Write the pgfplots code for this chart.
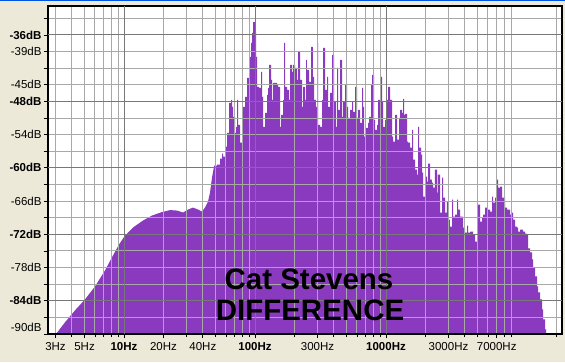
\documentclass[border=0pt]{standalone}
\usepackage{pgfplots}
\pgfplotsset{compat=1.18}
\usepackage{fontspec}
\setmainfont{Liberation Sans}
\definecolor{bg}{RGB}{236,233,216}
\definecolor{spec}{RGB}{138,58,190}
\definecolor{gridlight}{RGB}{168,168,168}
\definecolor{griddark}{RGB}{120,120,120}
\definecolor{winblue}{RGB}{0,84,227}

% x = log10(frequency in Hz), y = level in dB
\pgfplotstableread{
lf db
0.4809 -90
0.5496 -87.89
0.6260 -85.73
0.7023 -83.75
0.7786 -81.41
0.8550 -78.52
0.9160 -75.82
0.9618 -73.84
1.0076 -72.22
1.0687 -70.77
1.1450 -69.51
1.2137 -68.61
1.2901 -67.98
1.3511 -67.62
1.4046 -67.71
1.4504 -68.07
1.4885 -67.53
1.5267 -67.17
1.5649 -67.53
1.5954 -67.89
1.6183 -67.17
1.6412 -66.09
1.6565 -64.47
1.6718 -61.77
1.6870 -59.78
1.6870 -90
}\lowpart

\pgfplotstableread{
lf db
1.6718 -90
1.6718 -61.59
1.6870 -59.60
1.7099 -59.42
1.7328 -58.34
1.7481 -57.44
1.7557 -57.98
1.7710 -56.18
1.7863 -53.66
1.8015 -48.25
1.8168 -47.71
1.8244 -48.97
1.8321 -50.77
1.8473 -53.66
1.8550 -52.58
1.8626 -47.71
1.8702 -52.22
1.8855 -55.46
1.9008 -50.95
1.9084 -48.97
1.9237 -47.17
1.9389 -43.75
1.9542 -39.96
1.9695 -37.44
1.9771 -35.64
1.9847 -33.66
2.0000 -35.46
2.0076 -39.96
2.0153 -45.37
2.0305 -45.55
2.0458 -42.67
2.0534 -47.17
2.0611 -52.58
2.0763 -50.05
2.0916 -46.81
2.0992 -45.55
2.1069 -41.41
2.1221 -44.11
2.1298 -47.71
2.1374 -44.65
2.1527 -44.65
2.1679 -45.01
2.1756 -45.37
2.1908 -52.58
2.1985 -50.41
2.2137 -47.71
2.2214 -37.44
2.2290 -45.37
2.2443 -45.91
2.2595 -47.71
2.2672 -41.41
2.2824 -42.67
2.2901 -41.41
2.3053 -41.95
2.3206 -44.11
2.3282 -39.06
2.3435 -44.11
2.3588 -48.97
2.3664 -45.37
2.3817 -47.71
2.3893 -40.50
2.3969 -42.31
2.4122 -44.47
2.4275 -38.16
2.4427 -43.57
2.4504 -47.71
2.4656 -48.97
2.4733 -37.44
2.4809 -52.22
2.4962 -52.58
2.5115 -47.71
2.5191 -38.34
2.5344 -45.91
2.5496 -43.57
2.5573 -48.97
2.5725 -46.45
2.5878 -39.60
2.6031 -48.07
2.6183 -52.58
2.6260 -41.95
2.6336 -49.51
2.6489 -40.50
2.6641 -50.77
2.6718 -48.07
2.6870 -45.01
2.7023 -48.97
2.7099 -50.95
2.7252 -49.51
2.7405 -48.07
2.7481 -49.87
2.7634 -45.37
2.7786 -50.95
2.7863 -49.51
2.8015 -51.86
2.8168 -45.55
2.8244 -48.97
2.8321 -54.38
2.8473 -52.76
2.8626 -51.86
2.8702 -50.77
2.8855 -45.01
2.8931 -43.21
2.9084 -51.32
2.9160 -53.12
2.9313 -52.22
2.9389 -47.71
2.9542 -43.57
2.9695 -48.07
2.9771 -52.58
2.9924 -51.32
3.0076 -47.71
3.0153 -45.37
3.0305 -47.71
3.0458 -54.38
3.0534 -55.28
3.0687 -50.41
3.0840 -54.92
3.0992 -50.95
3.1069 -49.51
3.1221 -50.05
3.1298 -47.53
3.1374 -50.41
3.1450 -50.23
3.1603 -55.28
3.1679 -55.46
3.1832 -56.36
3.1985 -53.12
3.2061 -58.52
3.2214 -60.32
3.2366 -61.23
3.2443 -52.58
3.2519 -56.36
3.2672 -57.62
3.2748 -60.86
3.2824 -65.19
3.2977 -61.59
3.3130 -62.49
3.3206 -59.24
3.3359 -62.13
3.3511 -62.67
3.3588 -63.57
3.3740 -60.32
3.3893 -64.47
3.3969 -61.23
3.4122 -68.07
3.4275 -61.77
3.4351 -65.37
3.4504 -68.07
3.4656 -66.09
3.4733 -69.33
3.4885 -70.59
3.5038 -65.73
3.5115 -68.79
3.5267 -68.43
3.5420 -65.73
3.5496 -67.53
3.5649 -68.79
3.5802 -68.79
3.5878 -70.77
3.6031 -71.68
3.6183 -70.41
3.6260 -71.68
3.6412 -71.50
3.6565 -71.50
3.6641 -72.04
3.6794 -73.30
3.6947 -70.77
3.7023 -66.63
3.7176 -69.69
3.7328 -68.97
3.7405 -68.43
3.7557 -67.17
3.7710 -68.79
3.7786 -67.53
3.7939 -67.89
3.8092 -65.19
3.8168 -66.27
3.8321 -65.37
3.8473 -62.13
3.8550 -63.57
3.8702 -63.39
3.8855 -65.37
3.8931 -65.37
3.9084 -67.17
3.9237 -67.53
3.9466 -68.43
3.9618 -68.07
3.9695 -69.33
3.9847 -70.59
4.0000 -70.77
4.0076 -71.50
4.0229 -71.14
4.0458 -71.50
4.0611 -71.86
4.0763 -72.04
4.0840 -74.56
4.0992 -75.28
4.1145 -76.54
4.1221 -77.98
4.1374 -79.60
4.1527 -81.41
4.1603 -82.49
4.1756 -83.75
4.1908 -85.55
4.1985 -87.35
4.2137 -89.15
4.2214 -90
}\spikes

\begin{document}
\begin{tikzpicture}
\fill[bg] (-48pt,-28pt) rectangle (517pt,334pt);
\fill[winblue] (-48pt,333pt) rectangle (517pt,334pt);
\begin{axis}[
  at={(0pt,0pt)}, anchor=south west,
  scale only axis, width=514pt, height=328pt,
  xmin=0.4198, xmax=4.3435, ymin=-90, ymax=-30.77,
  axis background/.style={fill=white},
  axis on top,
  axis line style={black, line width=1.6pt},
  tick align=outside,
  xtick pos=bottom, ytick pos=left,
  major tick length=4pt, minor tick length=3pt,
  tick style={black, line width=0.8pt},
  ticklabel style={font=\fontsize{11.5}{13}\selectfont},
  xticklabel style={yshift=-1pt},
  yticklabel style={xshift=1pt},
  xtick={0.4771,0.6990,1,1.3010,1.6021,2,2.4771,3,3.4771,3.8451},
  xticklabels={3Hz,5Hz,\textbf{10Hz},20Hz,40Hz,\textbf{100Hz},300Hz,\textbf{1000Hz},3000Hz,7000Hz},
  minor xtick={0.4771,0.6021,0.6990,0.7782,0.8451,0.9031,0.9542,
    1.3010,1.4771,1.6021,1.6990,1.7782,1.8451,1.9031,1.9542,
    2.3010,2.4771,2.6021,2.6990,2.7782,2.8451,2.9031,2.9542,
    3.3010,3.4771,3.6021,3.6990,3.7782,3.8451,3.9031,3.9542,4.3010},
  xmajorgrids=false, xminorgrids=true, ymajorgrids=true,
  minor grid style={gridlight, line width=1pt},
  major grid style={gridlight, line width=1pt},
  ytick={-90,-87,...,-33},
  yticklabels={\smash{\raisebox{3pt}{-90dB}},{},\textbf{-84dB},{},-78dB,{},\textbf{-72dB},{},-66dB,{},\textbf{-60dB},{},-54dB,{},\textbf{-48dB},-45dB,{},-39dB,\textbf{-36dB},{}},
  extra x ticks={1,2,3},
  extra x tick labels={},
  extra x tick style={xmajorgrids=true, major grid style={griddark, line width=1pt}},
  extra y ticks={-84,-72,-60,-48,-36},
  extra y tick labels={},
  extra y tick style={ymajorgrids=true, major grid style={griddark, line width=1pt}},
]
\addplot[fill=spec, draw=none] table[x=lf, y=db] {\lowpart} -- cycle;
\addplot[fill=spec, draw=none, const plot] table[x=lf, y=db] {\spikes} -- cycle;
\end{axis}
\node[anchor=base, font=\fontsize{29.5}{32}\selectfont\bfseries] at (261pt,45pt) {Cat Stevens};
\node[anchor=base, font=\fontsize{29.5}{32}\selectfont\bfseries] at (262pt,14pt) {DIFFERENCE};
\end{tikzpicture}
\end{document}
